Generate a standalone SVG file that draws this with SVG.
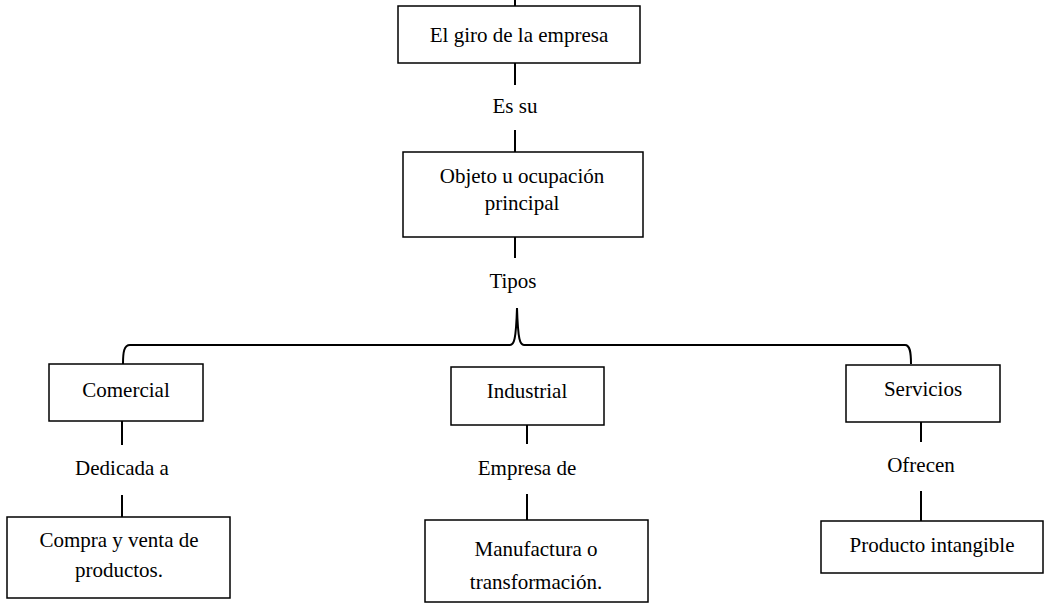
<svg xmlns="http://www.w3.org/2000/svg" width="1049" height="605" viewBox="0 0 1049 605">
<style>
.box{fill:#fff;stroke:#000;stroke-width:1.5}
.ln{fill:none;stroke:#000;stroke-width:2}
text{font-family:"Liberation Serif","Times New Roman",serif;font-size:21px;fill:#000;text-anchor:middle}
</style>
<rect width="1049" height="605" fill="#fff"/>
<g id="connectors">
<line class="ln" x1="515" y1="0" x2="515" y2="6"/>
<line class="ln" x1="515" y1="63" x2="515" y2="85"/>
<line class="ln" x1="515" y1="130" x2="515" y2="152"/>
<line class="ln" x1="515" y1="237" x2="515" y2="258"/>
<path class="ln" d="M123,364 C123,352 124,345 130,345 L510,345 C514,345 516,340 517,308 C518,340 520,345 524,345 L905,345 C910,345 911,352 911,364"/>
<line class="ln" x1="122" y1="421" x2="122" y2="445"/>
<line class="ln" x1="122" y1="495" x2="122" y2="517"/>
<line class="ln" x1="527" y1="425" x2="527" y2="444"/>
<line class="ln" x1="527" y1="494" x2="527" y2="520"/>
<line class="ln" x1="921" y1="422" x2="921" y2="442"/>
<line class="ln" x1="921" y1="491" x2="921" y2="521"/>
<text x="515" y="113">Es su</text>
<text x="513" y="288">Tipos</text>
<text x="122" y="475">Dedicada a</text>
<text x="527" y="475">Empresa de</text>
<text x="921" y="472">Ofrecen</text>
</g>
<g id="giro">
<rect class="box" x="398" y="6" width="242" height="57"/>
<text x="519" y="42">El giro de la empresa</text>
</g>
<g id="objeto">
<rect class="box" x="403" y="152" width="240" height="85"/>
<text x="522" y="183">Objeto u ocupación</text>
<text x="522" y="210">principal</text>
</g>
<g id="comercial">
<rect class="box" x="49" y="364" width="154" height="57"/>
<text x="126" y="397">Comercial</text>
</g>
<g id="industrial">
<rect class="box" x="451" y="367" width="153" height="58"/>
<text x="527" y="398">Industrial</text>
</g>
<g id="servicios">
<rect class="box" x="846" y="365" width="154" height="57"/>
<text x="923" y="396">Servicios</text>
</g>
<g id="compra">
<rect class="box" x="7" y="517" width="223" height="81"/>
<text x="119" y="547">Compra y venta de</text>
<text x="119" y="577">productos.</text>
</g>
<g id="manufactura">
<rect class="box" x="425" y="520" width="223" height="82"/>
<text x="536" y="556">Manufactura o</text>
<text x="536" y="589">transformación.</text>
</g>
<g id="producto">
<rect class="box" x="821" y="521" width="222" height="52"/>
<text x="932" y="552">Producto intangible</text>
</g>
</svg>
